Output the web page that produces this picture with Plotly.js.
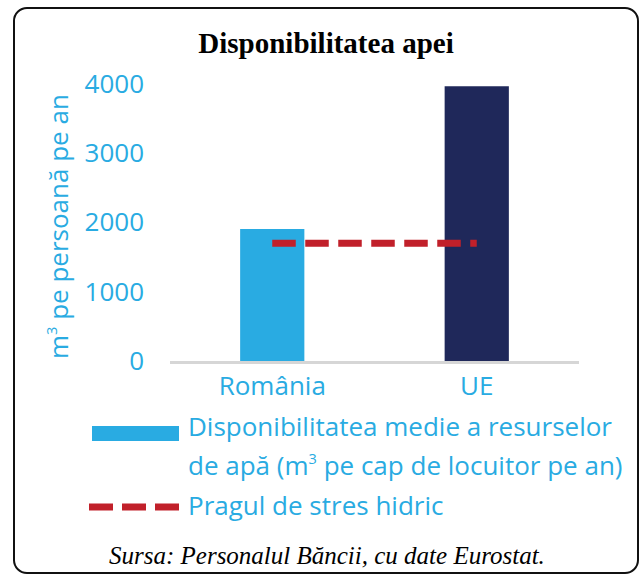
<!DOCTYPE html>
<html>
<head>
<meta charset="utf-8">
<script src="https://cdn.plot.ly/plotly-3.0.1.min.js"></script>
<style>
  html, body { margin: 0; padding: 0; background: #ffffff; }
  #wrap { position: relative; width: 642px; height: 574px; }
  #chart { position: absolute; left: 0; top: 0; width: 642px; height: 574px; }
  #frame { position: absolute; left: 13px; top: 7px; width: 622px; height: 563px;
           border: 2px solid #111; border-radius: 14px; pointer-events: none; }
</style>
</head>
<body>
<div id="wrap">
  <div id="chart"></div>
  <div id="frame"></div>
</div>
<script>
// ---- data ----
const categories = ['România', 'UE'];
const availability = [1905, 3965];          // m3 per person per year
const stressThreshold = [1700, 1700];       // water-stress threshold
const yTickValues = [0, 1000, 2000, 3000, 4000];
const yTickLabels = ['0', '1000', '2000', '3000', '4000'];
const SUP3 = '<sup><span style="font-size:80%">3</span></sup>';
const titleText = 'Disponibilitatea apei';
const yTitleText = 'm' + SUP3 + ' pe persoană pe an';
const legendBarText1 = 'Disponibilitatea medie a resurselor';
const legendBarText2 = 'de apă (m' + SUP3 + ' pe cap de locuitor pe an)';
const legendLineText = 'Pragul de stres hidric';
const sourceText = 'Sursa: Personalul Băncii, cu date Eurostat.';

// ---- style ----
const CYAN = '#29ABE2';
const NAVY = '#1F285A';
const RED = '#C1202A';
const W = 642, H = 574;
const M = { l: 170, r: 63, t: 72, b: 213 };
const PL = M.l, PR = W - M.r, PT = M.t, PB = H - M.b;
const px = x => (x - PL) / (PR - PL);
const py = y => (PB - y) / (PB - PT);
const sans = 'Open Sans, Noto Sans, sans-serif';

const traces = [
  {
    type: 'bar',
    x: categories,
    y: availability,
    marker: { color: [CYAN, NAVY] },
    showlegend: false,
    hoverinfo: 'x+y'
  },
  {
    type: 'scatter',
    mode: 'lines',
    x: categories,
    y: stressThreshold,
    line: { color: RED, width: 7, dash: '23.5px,9.5px' },
    showlegend: false,
    hoverinfo: 'y'
  }
];

const layout = {
  width: W, height: H,
  margin: M,
  paper_bgcolor: '#ffffff',
  plot_bgcolor: '#ffffff',
  bargap: 0.686,
  showlegend: false,
  title: {
    text: '<b>' + titleText + '</b>',
    font: { family: 'Liberation Serif, Times New Roman, serif', size: 29, color: '#000' },
    x: 326 / W, xanchor: 'center', xref: 'container',
    y: 1 - 53 / H, yanchor: 'bottom', yref: 'container'
  },
  xaxis: {
    type: 'category',
    showgrid: false, zeroline: false,
    showline: true, linecolor: '#D6D6D6', linewidth: 3,
    ticks: '',
    tickfont: { family: sans, size: 26, color: CYAN },
    fixedrange: true
  },
  yaxis: {
    range: [0, 4170],
    tickvals: yTickValues,
    ticktext: yTickLabels,
    showgrid: false, zeroline: false, showline: false,
    ticks: '',
    ticklabelstandoff: 25,
    tickfont: { family: sans, size: 26, color: CYAN },
    fixedrange: true
  },
  shapes: [
    { type: 'rect', xref: 'paper', yref: 'paper',
      x0: px(92), x1: px(179), y0: py(441), y1: py(426),
      fillcolor: CYAN, line: { width: 0 } },
    { type: 'line', xref: 'paper', yref: 'paper',
      x0: px(89), x1: px(180), y0: py(507), y1: py(507),
      line: { color: RED, width: 7, dash: '24px,9px' } }
  ],
  annotations: [
    { text: yTitleText, xref: 'paper', yref: 'paper', x: px(58), y: py(227),
      xanchor: 'center', yanchor: 'middle', textangle: -90, showarrow: false,
      font: { family: sans, size: 26, color: CYAN } },
    { text: legendBarText1, xref: 'paper', yref: 'paper', x: px(186), y: py(446),
      xanchor: 'left', yanchor: 'bottom', showarrow: false,
      font: { family: sans, size: 26, color: CYAN } },
    { text: legendBarText2, xref: 'paper', yref: 'paper', x: px(186), y: py(485),
      xanchor: 'left', yanchor: 'bottom', showarrow: false,
      font: { family: sans, size: 26, color: CYAN } },
    { text: legendLineText, xref: 'paper', yref: 'paper', x: px(186), y: py(525),
      xanchor: 'left', yanchor: 'bottom', showarrow: false,
      font: { family: sans, size: 26, color: CYAN } },
    { text: '<i>' + sourceText + '</i>', xref: 'paper', yref: 'paper', x: px(327), y: py(571),
      xanchor: 'center', yanchor: 'bottom', showarrow: false,
      font: { family: 'Liberation Serif, Times New Roman, serif', size: 25, color: '#000' } }
  ]
};

Plotly.newPlot('chart', traces, layout, { displayModeBar: false, staticPlot: true });
</script>
</body>
</html>
